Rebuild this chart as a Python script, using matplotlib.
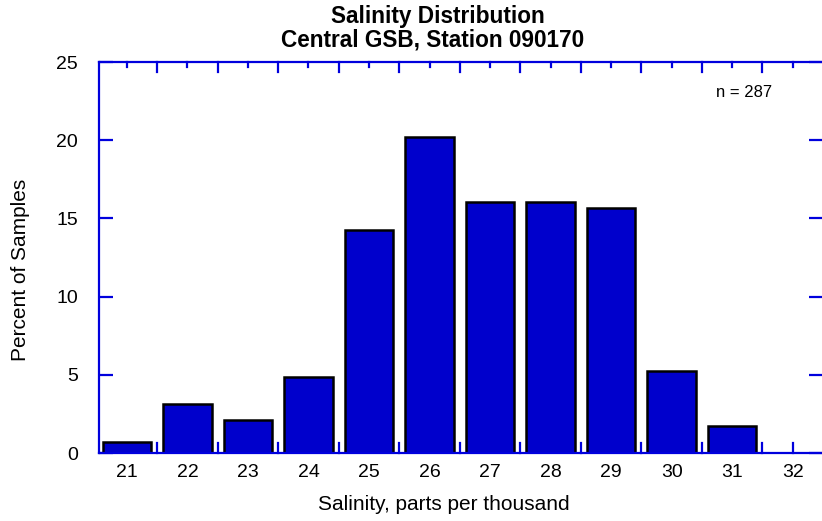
import matplotlib.pyplot as plt
import numpy as np

# salinity classes (ppt) and percent of samples in each
salinity = [21, 22, 23, 24, 25, 26, 27, 28, 29, 30, 31, 32]
percent = [0.70, 3.14, 2.09, 4.88, 14.29, 20.21, 16.03, 16.03, 15.68, 5.23, 1.74, 0.0]
n_samples = 287

blue = "#0000cc"
axis_blue = "#0000dd"

plt.rcParams["font.family"] = ["Liberation Sans", "DejaVu Sans"]

W, H = 822, 521
fig = plt.figure(figsize=(W / 100, H / 100), dpi=100)
ax = fig.add_axes([99 / W, (H - 453) / H, 724 / W, 391 / H])

ax.bar(salinity, percent, width=0.8, color=blue, edgecolor="black", linewidth=1.8, zorder=2)

ax.set_xlim(20.54, 32.5)
ax.set_ylim(0, 25)

# axis lines / ticks in blue
for side in ["left", "top", "bottom"]:
    ax.spines[side].set_color(axis_blue)
    ax.spines[side].set_linewidth(1.6)
ax.spines["right"].set_visible(False)

ax.set_yticks(range(0, 26, 5))
ax.tick_params(axis="y", which="major", direction="in", length=10, width=1.6,
               color=axis_blue, right=True, labelsize=14, pad=15)

# bottom: labels at class centres, ticks at bin edges
ax.set_xticks(salinity)
ax.tick_params(axis="x", which="major", length=0, labelsize=14, pad=8)
edges = [s + 0.5 for s in salinity[:-1]] + [32]
for e in edges:
    ax.plot([e, e], [0, 0.65], color=axis_blue, lw=1.6, clip_on=False, zorder=1)

# top: longer ticks at bin edges, short ones at centres
for e in edges[:-1]:
    ax.plot([e, e], [25, 24.36], color=axis_blue, lw=1.6, clip_on=False, zorder=1)
for s in salinity:
    ax.plot([s, s], [25, 24.7], color=axis_blue, lw=1.6, clip_on=False, zorder=1)

fig.text(438 / W, 1 - 17 / H, "Salinity Distribution", fontsize=16.3,
         fontweight="bold", ha="center", va="center")
fig.text(433 / W, 1 - 40 / H, "Central GSB, Station 090170", fontsize=16.3,
         fontweight="bold", ha="center", va="center")
fig.text(444 / W, 1 - 505 / H, "Salinity, parts per thousand", fontsize=15,
         ha="center", va="center")
fig.text(20 / W, 1 - 270 / H, "Percent of Samples", fontsize=15,
         ha="center", va="center", rotation=90)

ax.text(31.19, 23.05, f"n = {n_samples}", fontsize=12, ha="center", va="center")

fig.savefig("out.png", dpi=100)
